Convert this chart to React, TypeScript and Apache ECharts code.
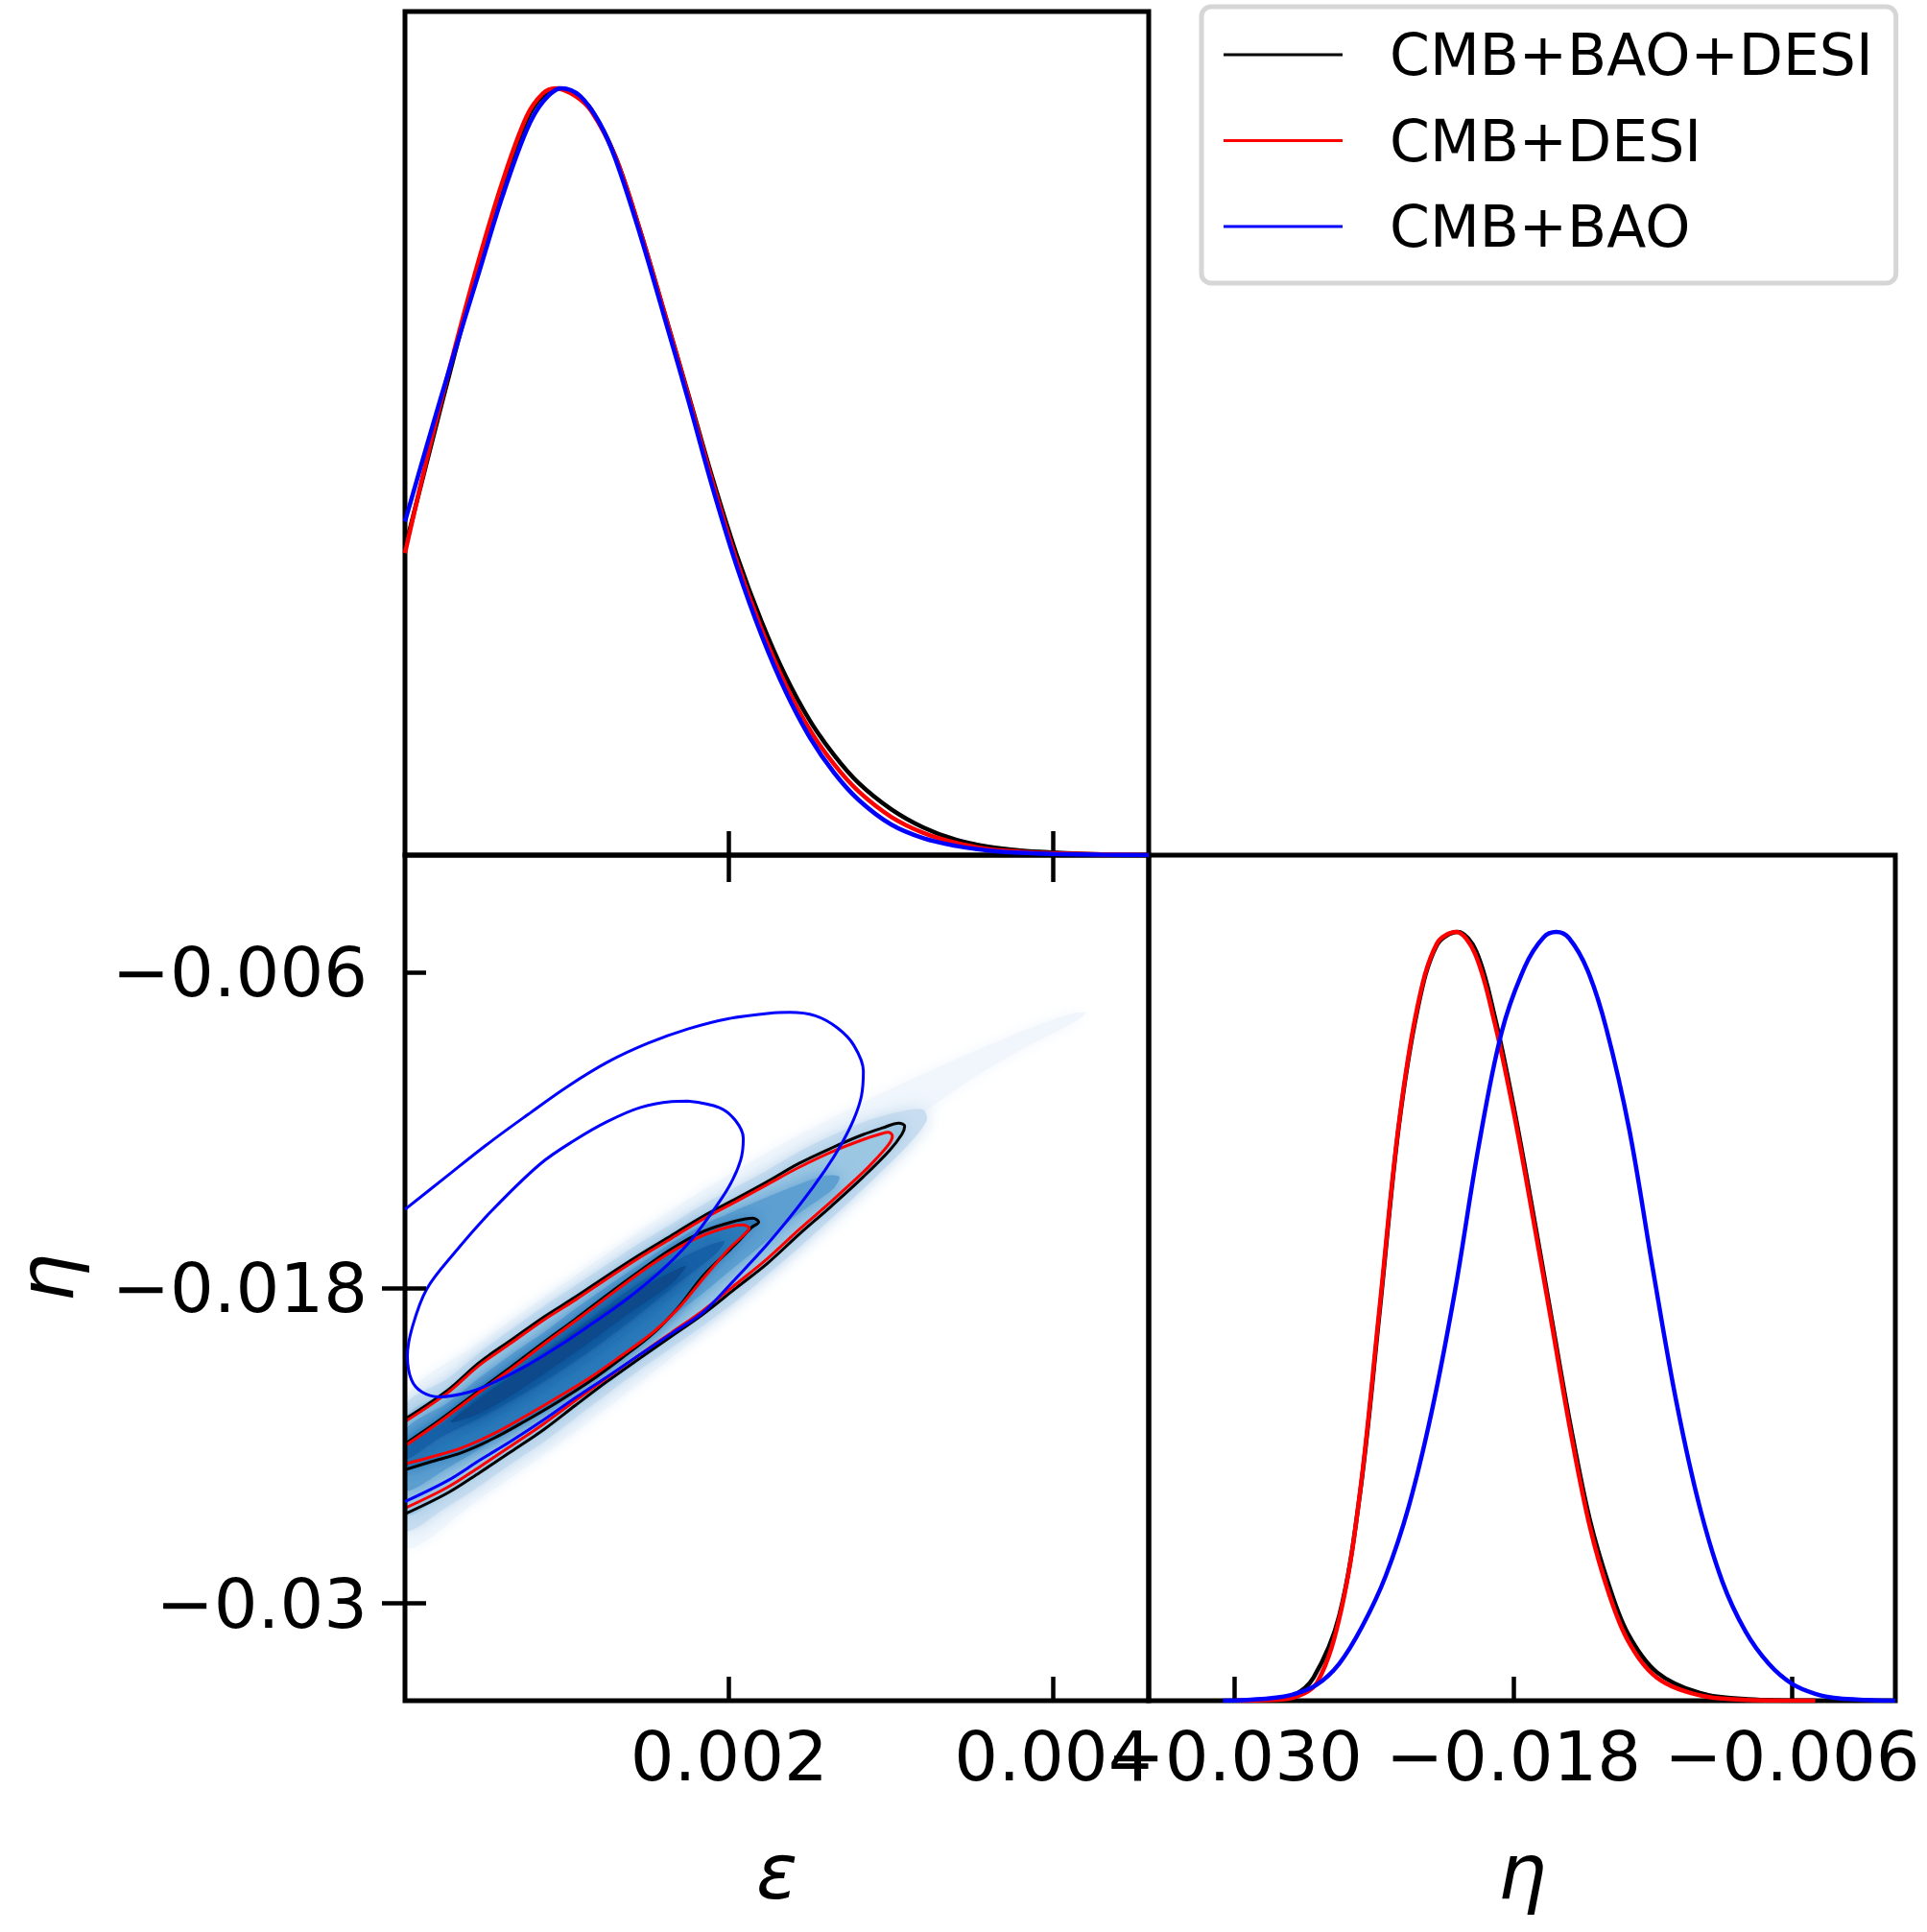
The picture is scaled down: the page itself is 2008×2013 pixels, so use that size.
import React, { useEffect, useRef } from 'react';
import * as echarts from 'echarts';

// Units: ε and η values are given in units of 10^-3.
const SERIES_NAMES = ['CMB+BAO+DESI', 'CMB+DESI', 'CMB+BAO'];
const SERIES_COLORS = ['#000000', '#ff0000', '#0000ff'];

const EPS_MIN = 0;
const EPS_MAX = 4.59;
const ETA_MIN = -33.7;
const ETA_MAX = -1.55;
const PDF_MAX = 1.1;

const EPS_TICKS = [2, 4];
const EPS_TICK_LABELS = ['0.002', '0.004'];
const ETA_TICKS = [-6, -18, -30];
const ETA_Y_TICK_LABELS = ['\u22120.006', '\u22120.018', '\u22120.03'];
const ETA_X_TICK_LABELS = ['\u22120.006', '\u22120.018', '\u22120.030'];
const ETA_RIGHT_TICKS = [-18, -30];

// 1D marginal of ε (normalised to peak 1)
const EPS_PDF_BLACK: [number, number][] = [
  [0, 0.4], [0.15, 0.525], [0.3, 0.648], [0.45, 0.765], [0.6, 0.87], [0.75, 0.958], [0.85, 0.99], [0.95, 1.0],
  [1.05, 0.992], [1.15, 0.972], [1.3, 0.91], [1.45, 0.815], [1.6, 0.708], [1.75, 0.6], [1.9, 0.49], [2.05, 0.39],
  [2.2, 0.305], [2.35, 0.233], [2.5, 0.175], [2.65, 0.13], [2.8, 0.094], [3.0, 0.06], [3.2, 0.036], [3.4, 0.02],
  [3.6, 0.011], [3.8, 0.006], [4.0, 0.0035], [4.3, 0.001], [4.59, 0],
];
const EPS_PDF_RED: [number, number][] = [
  [0, 0.394], [0.15, 0.53], [0.3, 0.655], [0.45, 0.772], [0.6, 0.877], [0.75, 0.963], [0.85, 0.993], [0.93, 1.0],
  [1.05, 0.99], [1.15, 0.97], [1.3, 0.91], [1.45, 0.815], [1.6, 0.708], [1.75, 0.598], [1.9, 0.485], [2.05, 0.382],
  [2.2, 0.295], [2.35, 0.222], [2.5, 0.163], [2.65, 0.118], [2.8, 0.083], [3.0, 0.05], [3.2, 0.029], [3.4, 0.016],
  [3.6, 0.008], [3.8, 0.0045], [4.0, 0.0025], [4.3, 0.001], [4.59, 0],
];
const EPS_PDF_BLUE: [number, number][] = [
  [0, 0.435], [0.15, 0.545], [0.3, 0.652], [0.45, 0.755], [0.6, 0.858], [0.75, 0.945], [0.85, 0.982], [0.966, 1.0],
  [1.08, 0.99], [1.2, 0.955], [1.3, 0.907], [1.45, 0.81], [1.6, 0.702], [1.75, 0.592], [1.9, 0.478], [2.05, 0.375],
  [2.2, 0.287], [2.35, 0.213], [2.5, 0.153], [2.65, 0.107], [2.8, 0.072], [3.0, 0.04], [3.2, 0.022], [3.4, 0.012],
  [3.6, 0.006], [3.8, 0.003], [4.0, 0.0015], [4.3, 0.0005], [4.59, 0],
];

// 1D marginal of η (normalised to peak 1)
const ETA_PDF_BLACK: [number, number][] = [
  [-29.5, 0], [-28.5, 0.001], [-27.5, 0.006], [-26.6, 0.03], [-25.5, 0.11], [-24.6, 0.27], [-23.76, 0.505],
  [-22.94, 0.745], [-22.12, 0.9], [-21.29, 0.983], [-20.4, 1.0], [-19.6, 0.975], [-18.8, 0.89], [-18.0, 0.775],
  [-17.18, 0.64], [-16.35, 0.497], [-15.53, 0.357], [-14.71, 0.236], [-13.88, 0.15], [-13.06, 0.087],
  [-11.82, 0.037], [-9.97, 0.01], [-7.9, 0.002], [-5, 0],
];
const ETA_PDF_RED: [number, number][] = [
  [-30, 0], [-28.5, 0.001], [-27.47, 0.004], [-26.44, 0.024], [-25.41, 0.118], [-24.59, 0.274], [-23.76, 0.511],
  [-22.94, 0.748], [-22.12, 0.904], [-21.29, 0.985], [-20.47, 1.0], [-19.65, 0.972], [-18.82, 0.884],
  [-18.0, 0.768], [-17.18, 0.633], [-16.35, 0.491], [-15.53, 0.349], [-14.71, 0.227], [-13.88, 0.139],
  [-13.06, 0.078], [-11.82, 0.03], [-9.97, 0.007], [-7.91, 0.001], [-5, 0],
];
const ETA_PDF_BLUE: [number, number][] = [
  [-30.5, 0], [-29.5, 0.001], [-28.5, 0.003], [-27.5, 0.008], [-26.5, 0.02], [-25.5, 0.048], [-24.5, 0.097],
  [-23.5, 0.162], [-22.5, 0.253], [-21.5, 0.378], [-20.5, 0.535], [-19.5, 0.72], [-18.5, 0.87], [-17.5, 0.955],
  [-16.7, 0.993], [-16.15, 1.0], [-15.6, 0.992], [-14.8, 0.95], [-14.0, 0.875], [-13.0, 0.742], [-12.0, 0.563],
  [-11.0, 0.392], [-10.0, 0.255], [-9.0, 0.155], [-8.0, 0.09], [-7.0, 0.048], [-6.0, 0.022], [-5.0, 0.009],
  [-4.0, 0.003], [-2.77, 0.001], [-1.55, 0],
];

// 2D contours (ε, η), 68% (inner) and 95% (outer)
const CONTOUR_BLACK_OUTER: [number, number][] = [
  [0, -22.99], [0.264, -21.89], [0.46, -20.83], [0.655, -19.99], [0.857, -19.11], [1.052, -18.35],
  [1.248, -17.54], [1.449, -16.74], [1.645, -16.01], [1.84, -15.28], [2.041, -14.62], [2.237, -13.96],
  [2.432, -13.27], [2.634, -12.68], [2.829, -12.17], [2.948, -11.92], [3.048, -11.74], [3.084, -11.85],
  [3.066, -12.17], [2.989, -12.79], [2.829, -13.78], [2.634, -14.88], [2.432, -15.97], [2.237, -17.07],
  [2.041, -18.02], [1.84, -19.0], [1.645, -19.84], [1.449, -20.68], [1.248, -21.56], [1.052, -22.47],
  [0.857, -23.39], [0.655, -24.23], [0.46, -25.03], [0.264, -25.8], [0, -26.6],
];
const CONTOUR_BLACK_INNER: [number, number][] = [
  [0, -23.94], [0.223, -22.99], [0.46, -21.89], [0.655, -21.01], [0.851, -20.1], [1.052, -19.19],
  [1.248, -18.27], [1.449, -17.36], [1.645, -16.52], [1.84, -15.86], [2.041, -15.46], [2.147, -15.35],
  [2.183, -15.5], [2.136, -15.72], [2.041, -16.34], [1.84, -17.54], [1.692, -18.71], [1.538, -19.7],
  [1.336, -20.68], [1.141, -21.56], [0.946, -22.33], [0.744, -23.06], [0.549, -23.72], [0.353, -24.26],
  [0.152, -24.63], [0, -24.92],
];
const CONTOUR_RED_OUTER: [number, number][] = [
  [0, -23.09], [0.264, -21.99], [0.46, -20.94], [0.655, -20.1], [0.857, -19.22], [1.052, -18.46],
  [1.248, -17.65], [1.449, -16.85], [1.645, -16.12], [1.84, -15.39], [2.041, -14.73], [2.237, -14.07],
  [2.432, -13.42], [2.634, -12.83], [2.829, -12.36], [2.94, -12.14], [2.985, -12.09], [3.008, -12.22],
  [2.985, -12.55], [2.9, -13.15], [2.829, -13.6], [2.634, -14.7], [2.432, -15.79], [2.237, -16.89],
  [2.041, -17.87], [1.84, -18.86], [1.645, -19.7], [1.449, -20.54], [1.248, -21.42], [1.052, -22.29],
  [0.857, -23.17], [0.655, -24.01], [0.46, -24.81], [0.264, -25.58], [0, -26.38],
];
const CONTOUR_RED_INNER: [number, number][] = [
  [0, -24.01], [0.223, -23.06], [0.46, -21.96], [0.655, -21.09], [0.851, -20.17], [1.052, -19.26],
  [1.248, -18.35], [1.449, -17.43], [1.645, -16.63], [1.84, -16.01], [2.0, -15.68], [2.088, -15.61],
  [2.124, -15.75], [2.088, -16.01], [2.0, -16.52], [1.84, -17.65], [1.692, -18.75], [1.538, -19.66],
  [1.336, -20.58], [1.141, -21.42], [0.946, -22.15], [0.744, -22.88], [0.549, -23.54], [0.353, -24.08],
  [0.152, -24.45], [0, -24.7],
];
const CONTOUR_BLUE_OUTER: [number, number][] = [
  [0, -15.02], [0.25, -13.8], [0.5, -12.58], [0.75, -11.45], [1.0, -10.36], [1.25, -9.42], [1.5, -8.7],
  [1.75, -8.15], [2.0, -7.76], [2.25, -7.56], [2.373, -7.53], [2.533, -7.66], [2.669, -8.12], [2.77, -8.78],
  [2.829, -9.76], [2.817, -10.71], [2.77, -11.59], [2.693, -12.54], [2.592, -13.53], [2.432, -14.88],
  [2.237, -16.34], [2.041, -17.65], [1.84, -18.93], [1.645, -19.74], [1.449, -20.54], [1.248, -21.38],
  [1.052, -22.18], [0.857, -23.02], [0.655, -23.83], [0.46, -24.56], [0.264, -25.33], [0, -26.13],
];
const CONTOUR_BLUE_INNER: [number, number][] = [
  [1.745, -10.9], [1.941, -11.15], [2.041, -11.65], [2.088, -12.32], [2.071, -13.16], [2.0, -14.15],
  [1.882, -15.24], [1.745, -16.34], [1.567, -17.43], [1.348, -18.53], [1.153, -19.37], [0.951, -20.21],
  [0.756, -20.94], [0.56, -21.56], [0.4, -21.96], [0.211, -22.15], [0.104, -21.96], [0.04, -21.5],
  [0.015, -20.6], [0.045, -19.5], [0.134, -18.05], [0.306, -16.67], [0.531, -15.1], [0.833, -13.3],
  [1.052, -12.37], [1.248, -11.68], [1.449, -11.15], [1.645, -10.92], [1.745, -10.9],
];

// Density shading of CMB+BAO+DESI: nested iso-density regions (outermost first)
const DENSITY_HALO: [number, number][] = [
  [0, -22.29], [0.46, -20.1], [1.052, -17.54], [1.645, -15.05], [2.237, -12.85], [2.829, -10.95],
  [3.3, -9.6], [3.75, -8.4], [4.1, -7.6], [4.2, -7.55], [4.13, -7.9], [3.8, -8.95], [3.4, -10.45],
  [3.0, -12.4], [2.652, -15.17], [2.237, -17.54], [1.645, -20.65], [1.052, -23.47], [0.46, -26.02], [0, -27.85],
];
const DENSITY_LEVEL_2: [number, number][] = [
  [0, -22.55], [0.264, -21.45], [0.46, -20.47], [0.655, -19.59], [0.857, -18.71], [1.052, -17.91],
  [1.248, -17.11], [1.449, -16.3], [1.645, -15.57], [1.84, -14.84], [2.041, -14.18], [2.237, -13.53],
  [2.432, -12.83], [2.634, -12.21], [2.829, -11.7], [3.036, -11.33], [3.196, -11.22], [3.22, -11.62],
  [3.125, -12.43], [2.918, -13.71], [2.711, -14.91], [2.503, -16.08], [2.296, -17.18], [2.089, -18.27],
  [1.881, -19.26], [1.645, -20.28], [1.449, -21.12], [1.248, -22.04], [1.052, -22.95], [0.857, -23.86],
  [0.655, -24.7], [0.46, -25.54], [0.264, -26.31], [0, -27.19],
];
const DENSITY_LEVEL_4: [number, number][] = [
  [0, -23.46], [0.264, -22.37], [0.46, -21.42], [0.655, -20.54], [0.857, -19.7], [1.052, -18.79],
  [1.248, -17.95], [1.449, -17.11], [1.645, -16.3], [1.84, -15.61], [2.041, -15.06], [2.237, -14.55],
  [2.432, -14.07], [2.592, -13.74], [2.681, -13.78], [2.639, -14.26], [2.432, -15.17], [2.237, -16.19],
  [2.041, -17.18], [1.84, -18.2], [1.645, -19.11], [1.449, -19.99], [1.248, -20.83], [1.052, -21.71],
  [0.857, -22.55], [0.655, -23.35], [0.46, -24.12], [0.264, -24.85], [0, -25.69],
];
const DENSITY_LEVEL_6: [number, number][] = [
  [0, -24.12], [0.223, -23.17], [0.46, -22.11], [0.697, -21.12], [0.934, -20.1], [1.171, -19.04],
  [1.408, -17.98], [1.645, -17.07], [1.853, -16.45], [1.971, -16.23], [1.912, -16.74], [1.645, -18.02],
  [1.408, -19.19], [1.171, -20.28], [0.934, -21.27], [0.697, -22.15], [0.46, -22.95], [0.223, -23.68],
  [0, -24.56],
];
const DENSITY_CORE: [number, number][] = [
  [0.282, -23.1], [0.46, -22.22], [0.697, -21.2], [0.934, -20.17], [1.171, -19.15], [1.408, -18.2],
  [1.645, -17.4], [1.733, -17.18], [1.645, -17.84], [1.408, -18.86], [1.171, -19.92], [0.934, -20.94],
  [0.697, -21.93], [0.46, -22.77],
];

const DENSITY_REGIONS = [
  DENSITY_HALO, DENSITY_LEVEL_2, CONTOUR_BLACK_OUTER, DENSITY_LEVEL_4, CONTOUR_BLACK_INNER, DENSITY_LEVEL_6, DENSITY_CORE,
];
const DENSITY_COLORS = ['#f0f6fc', '#c9ddf0', '#9cc7e3', '#5d9fd1', '#2b79b9', '#1661a7', '#08488b'];
const DENSITY_BLUR = [14, 18, 18, 18, 16, 16, 16];

const FONT = 'DejaVu Sans';

const labelFor = (values: number[], labels: string[]) => (v: number) => {
  const i = values.findIndex((t) => Math.abs(t - v) < 1e-6);
  return i >= 0 ? labels[i] : '';
};

const tickStyle = (values: number[], length = 25) => ({
  show: true,
  inside: true,
  length,
  customValues: values,
  lineStyle: { color: '#000', width: 4.5 },
});

function buildOption() {
  const gridBase = {
    show: true, borderColor: '#000', borderWidth: 5, backgroundColor: 'transparent', z: 5,
    containLabel: false, outerBoundsMode: 'none',
  };
  const grids = [
    { ...gridBase, left: 422, top: 12, width: 775, height: 879 },
    { ...gridBase, left: 422, top: 891, width: 775, height: 881 },
    { ...gridBase, left: 1197, top: 891, width: 778, height: 881 },
  ];

  const noLine = { show: false };
  const axisName = { fontSize: 80, fontFamily: FONT, fontStyle: 'italic', color: '#000' };
  const xAxes = [
    {
      type: 'value', gridIndex: 0, min: EPS_MIN, max: EPS_MAX, position: 'bottom', z: 6,
      axisLine: noLine, splitLine: noLine, axisTick: tickStyle(EPS_TICKS), axisLabel: { show: false },
    },
    {
      type: 'value', gridIndex: 1, min: EPS_MIN, max: EPS_MAX, position: 'bottom', z: 6,
      axisLine: noLine, splitLine: noLine, axisTick: tickStyle(EPS_TICKS),
      axisLabel: {
        customValues: EPS_TICKS, formatter: labelFor(EPS_TICKS, EPS_TICK_LABELS),
        fontSize: 72, fontFamily: FONT, color: '#000', margin: 22,
      },
      name: '\u03b5', nameLocation: 'middle', nameGap: 138, nameTextStyle: axisName,
    },
    {
      type: 'value', gridIndex: 1, min: EPS_MIN, max: EPS_MAX, position: 'top', z: 6,
      axisLine: noLine, splitLine: noLine, axisTick: tickStyle(EPS_TICKS, 28), axisLabel: { show: false },
    },
    {
      type: 'value', gridIndex: 2, min: ETA_MIN, max: ETA_MAX, position: 'bottom', z: 6,
      axisLine: noLine, splitLine: noLine, axisTick: tickStyle(ETA_TICKS),
      axisLabel: {
        customValues: ETA_TICKS, formatter: labelFor(ETA_TICKS, ETA_X_TICK_LABELS),
        fontSize: 72, fontFamily: FONT, color: '#000', margin: 22,
      },
      name: '\u03b7', nameLocation: 'middle', nameGap: 138, nameTextStyle: axisName,
    },
  ];
  const yAxes = [
    { type: 'value', gridIndex: 0, min: 0, max: PDF_MAX, show: false },
    {
      type: 'value', gridIndex: 1, min: ETA_MIN, max: ETA_MAX, position: 'left', z: 6,
      axisLine: noLine, splitLine: noLine, axisTick: tickStyle(ETA_TICKS, 22),
      axisLabel: {
        customValues: ETA_TICKS, formatter: labelFor(ETA_TICKS, ETA_Y_TICK_LABELS),
        fontSize: 72, fontFamily: FONT, color: '#000', margin: 39,
      },
      name: '\u03b7', nameLocation: 'middle', nameGap: 348, nameRotate: 90,
      nameTextStyle: { ...axisName, lineHeight: 52 },
    },
    {
      type: 'value', gridIndex: 1, min: ETA_MIN, max: ETA_MAX, position: 'right', z: 6,
      axisLine: noLine, splitLine: noLine, axisTick: tickStyle(ETA_RIGHT_TICKS, 24), axisLabel: { show: false },
    },
    { type: 'value', gridIndex: 2, min: 0, max: PDF_MAX, show: false },
  ];

  const lineSeries = (name: string, color: string, data: [number, number][], xi: number, yi: number, width: number, z: number) => ({
    type: 'line', name, data, xAxisIndex: xi, yAxisIndex: yi, symbol: 'none', showSymbol: false,
    smooth: 0.35, clip: true, silent: true, z,
    lineStyle: { color, width }, itemStyle: { color },
  });

  const shading = DENSITY_REGIONS.map((region, i) => ({
    type: 'custom', xAxisIndex: 1, yAxisIndex: 1, clip: true, silent: true, z: 1,
    data: [region[0]],
    renderItem: (_params: any, api: any) => ({
      type: 'polygon',
      shape: { points: region.map((p) => api.coord(p)), smooth: 0.3 },
      style: { fill: DENSITY_COLORS[i], shadowBlur: DENSITY_BLUR[i], shadowColor: DENSITY_COLORS[i] },
    }),
  }));

  const pdfEps = [EPS_PDF_BLACK, EPS_PDF_RED, EPS_PDF_BLUE];
  const pdfEta = [ETA_PDF_BLACK, ETA_PDF_RED, ETA_PDF_BLUE];
  const outer = [CONTOUR_BLACK_OUTER, CONTOUR_RED_OUTER, CONTOUR_BLUE_OUTER];
  const inner = [CONTOUR_BLACK_INNER, CONTOUR_RED_INNER, CONTOUR_BLUE_INNER];

  const series: any[] = [];
  SERIES_NAMES.forEach((name, i) => {
    series.push(lineSeries(name, SERIES_COLORS[i], outer[i], 1, 1, 3, 3 + i));
    series.push(lineSeries(name, SERIES_COLORS[i], inner[i], 1, 1, 3, 3 + i));
    series.push(lineSeries(name, SERIES_COLORS[i], pdfEps[i], 0, 0, 4.5, 7 + i));
    series.push(lineSeries(name, SERIES_COLORS[i], pdfEta[i], 3, 3, 4.5, 7 + i));
  });

  return {
    animation: false,
    backgroundColor: '#ffffff',
    grid: grids,
    xAxis: xAxes,
    yAxis: yAxes,
    legend: {
      data: SERIES_NAMES,
      orient: 'vertical',
      left: 1252,
      top: 7,
      padding: [20, 24, 29, 23],
      itemGap: 29.5,
      itemWidth: 124,
      itemHeight: 3,
      icon: 'rect',
      selectedMode: false,
      borderColor: '#d6d6d6',
      borderWidth: 5,
      borderRadius: 10,
      backgroundColor: '#ffffff',
      textStyle: { fontSize: 60, lineHeight: 59, fontFamily: FONT, color: '#000', padding: [0, 0, 0, 44] },
    },
    series: [...shading, ...series],
  };
}

export default function App() {
  const ref = useRef<HTMLDivElement>(null);
  useEffect(() => {
    if (!ref.current) return;
    const chart = echarts.init(ref.current, null, { renderer: 'svg' });
    chart.setOption(buildOption() as any);
    return () => chart.dispose();
  }, []);
  return (
    <div
      ref={ref}
      style={{ position: 'fixed', left: 0, top: 0, width: 2008, height: 2013, background: '#ffffff' }}
    />
  );
}
